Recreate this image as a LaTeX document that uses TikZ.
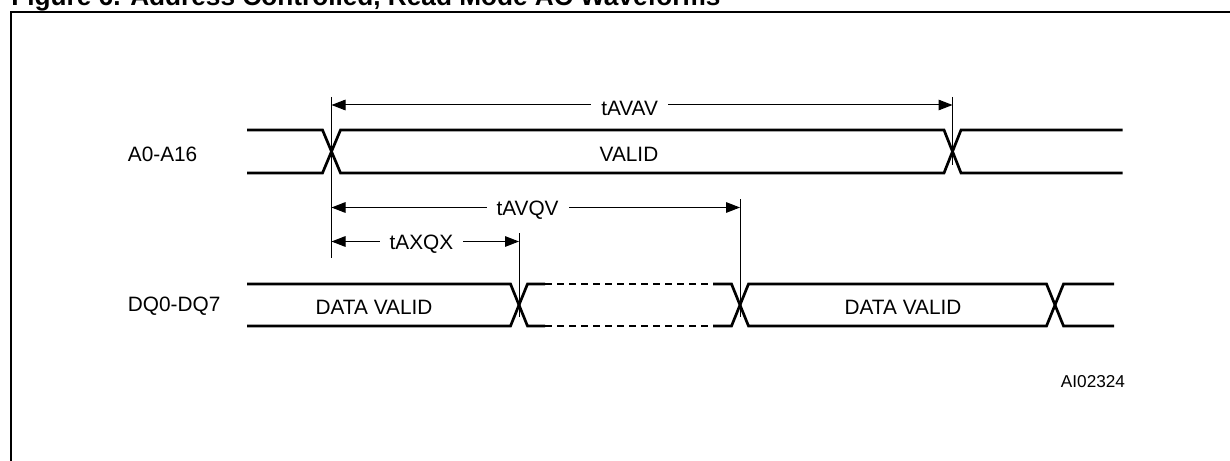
\documentclass[tikz,border=0pt]{standalone}
\usepackage{fontspec}
\setmainfont{Liberation Sans}
\usetikzlibrary{arrows.meta,positioning}

\tikzset{
  frame/.style={line width=1.15pt},
  wave/.style={line width=1.35pt},
  gap/.style={line width=1.35pt, dash pattern=on 3.5pt off 2.5pt},
  marker/.style={line width=0.5pt},
  dim/.style={line width=0.5pt, {Triangle[length=7pt,width=5.3pt]}-{Triangle[length=7pt,width=5.3pt]}},
  lbl/.style={font=\fontsize{10.4}{12}\selectfont, inner sep=0pt},
  tm/.style={lbl, fill=white, inner xsep=5pt, inner ysep=1pt, yshift=-1.5pt, pos=.48},
}

\begin{document}
\begin{tikzpicture}[x=0.5pt, y=-0.5pt]
  \useasboundingbox (0,0) rectangle (1230,460);
  \node[anchor=base west, inner sep=0pt, font=\fontsize{13.1}{15}\selectfont\bfseries] (title) at (11,5.5) {Figure 6. Address Controlled, Read Mode AC Waveforms};
  \draw[frame] (11,500) |- (1260,12);

  % signal names
  \node[lbl, anchor=base west] (addr) at (127.5,161) {A0-A16};
  \node[lbl, anchor=base west] (data) at (127.5,311) {DQ0-DQ7};

  % A0-A16
  \draw[wave] (247,130) -- (322.5,130) -- (340.5,173) -- (944,173) -- (961,130) -- (1122.5,130);
  \draw[wave] (247,173) -- (322.5,173) -- (340.5,130) -- (944,130) -- (961,173) -- (1122.5,173);
  \node[lbl, anchor=base] (valid) at (629,161) {VALID};

  % DQ0-DQ7
  \draw[wave] (247,284) -- (510.5,284) -- (527.5,326) -- (545,326);
  \draw[wave] (247,326) -- (510.5,326) -- (527.5,284) -- (545,284);
  \draw[gap] (545,284) -- (713,284) (545,326) -- (713,326);
  \draw[wave] (713,284) -- (731.5,284) -- (748.5,326) -- (1046.5,326) -- (1063.5,284) -- (1114,284);
  \draw[wave] (713,326) -- (731.5,326) -- (748.5,284) -- (1046.5,284) -- (1063.5,326) -- (1114,326);
  \node[lbl, anchor=base] (dvl) at (374,314) {DATA VALID};
  \node[lbl, anchor=base] (dvr) at (903,314) {DATA VALID};

  % markers
  \coordinate (m1t) at (331.5,97);  \coordinate (m1b) at (331.5,258);
  \coordinate (m2t) at (952.5,97);  \coordinate (m2b) at (952.5,165);
  \coordinate (m3t) at (519,233);   \coordinate (m3b) at (519,317);
  \coordinate (m4t) at (740,199);   \coordinate (m4b) at (740,317);
  \draw[marker] (m1t) -- (m1b) (m2t) -- (m2b) (m3t) -- (m3b) (m4t) -- (m4b);

  % timings
  \coordinate (avavL) at (331.5,105);   \coordinate (avavR) at (952.5,105);
  \coordinate (avqvL) at (331.5,207.5); \coordinate (avqvR) at (740,207.5);
  \coordinate (axqxL) at (331.5,241.5); \coordinate (axqxR) at (519,241.5);
  \draw[dim] (avavL) -- node[tm] (tavav) {tAVAV} (avavR);
  \draw[dim] (avqvL) -- node[tm] (tavqv) {tAVQV} (avqvR);
  \draw[dim] (axqxL) -- node[tm] (taxqx) {tAXQX} (axqxR);

  \node[lbl, anchor=base, font=\fontsize{8.6}{10}\selectfont] (code) at (1093,387) {AI02324};
\end{tikzpicture}
\end{document}
